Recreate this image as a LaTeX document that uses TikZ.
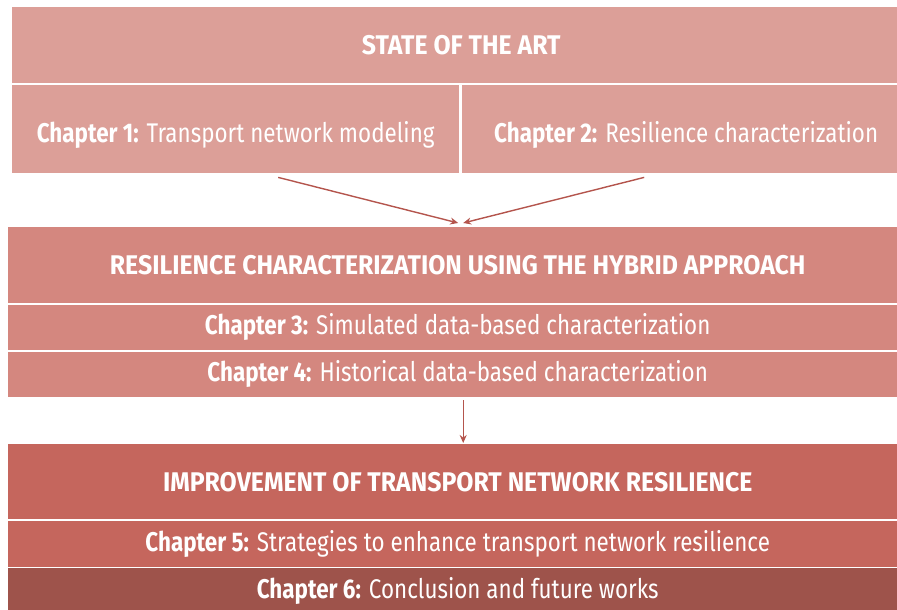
\documentclass[tikz,border=0pt]{standalone}
\usepackage{fontspec}
\setmainfont{Fira Sans}[FakeStretch=0.83]
\newfontfamily\headfont{Fira Sans}[FakeStretch=0.92]
\usetikzlibrary{arrows.meta}
\definecolor{artpink}{HTML}{DC9F98}
\definecolor{hybridpink}{HTML}{D4877F}
\definecolor{improvered}{HTML}{C5665D}
\definecolor{closebrown}{HTML}{9E534B}
\definecolor{arrowred}{HTML}{B4554D}

\begin{document}
\begin{tikzpicture}[x=1pt, y=-1pt,
    band/.style={rectangle, inner sep=0pt, anchor=north west, text=white,
                 font=\fontsize{27}{32}\selectfont},
    headband/.style={band, font=\fontsize{27}{32}\headfont\bfseries},
    flow/.style={draw=arrowred, line width=1.4pt, -{Stealth[length=8pt,width=7pt]}}]
            \clip (0,0) rectangle (897,610);
            % Nodes
            \node[headband, fill=artpink, minimum width=898pt, minimum height=76pt] (art) at (12,7) {STATE OF THE ART};
            \node[band, fill=artpink, minimum width=447pt, minimum height=88pt, text height=32pt] (ch1) at (12,85) {\textbf{Chapter 1:} Transport network modeling};
            \node[band, fill=artpink, minimum width=448pt, minimum height=88pt, text height=32pt] (ch2) at (462,85) {\textbf{Chapter 2:} Resilience characterization};
            \node[headband, fill=hybridpink, minimum width=899pt, minimum height=76pt] (hybrid) at (8,227) {RESILIENCE CHARACTERIZATION USING THE HYBRID APPROACH};
            \node[band, fill=hybridpink, minimum width=899pt, minimum height=45pt] (ch3) at (8,304.5) {\textbf{Chapter 3:} Simulated data-based characterization};
            \node[band, fill=hybridpink, minimum width=899pt, minimum height=45.5pt] (ch4) at (8,351.5) {\textbf{Chapter 4:} Historical data-based characterization};
            \node[headband, fill=improvered, minimum width=899pt, minimum height=75pt] (improve) at (8,444) {IMPROVEMENT OF TRANSPORT NETWORK RESILIENCE};
            \node[band, fill=improvered, minimum width=899pt, minimum height=45.5pt] (ch5) at (8,521) {\textbf{Chapter 5:} Strategies to enhance transport network resilience};
            \node[band, fill=closebrown, minimum width=899pt, minimum height=46pt] (ch6) at (8,568) {\textbf{Chapter 6:} Conclusion and future works};

            % Lines
            \draw[flow] ([xshift=42.5pt,yshift=-4pt]ch1.south) -- ([xshift=0.5pt,yshift=4pt]hybrid.north);
            \draw[flow] ([xshift=-42pt,yshift=-4pt]ch2.south) -- ([xshift=5.5pt,yshift=4pt]hybrid.north);
            \draw[flow] ([xshift=5.5pt,yshift=-3pt]ch4.south) -- ([xshift=5.5pt,yshift=1pt]improve.north);
        \end{tikzpicture}
\end{document}
